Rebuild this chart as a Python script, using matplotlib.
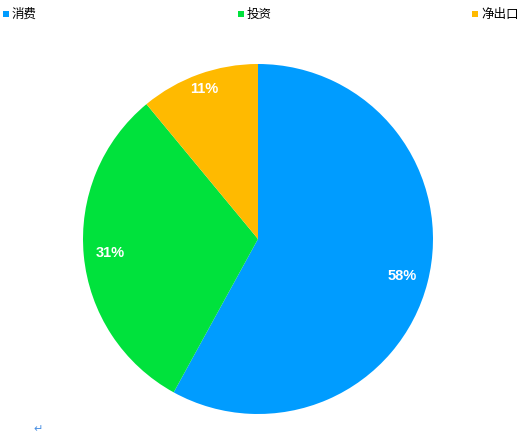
import matplotlib
matplotlib.use("Agg")
import matplotlib.pyplot as plt
from matplotlib.patches import Rectangle
import numpy as np

plt.rcParams['font.family'] = ['Noto Sans CJK SC', 'DejaVu Sans']

categories = ["消费", "投资", "净出口"]
values = [58, 31, 11]
colors = ["#009cff", "#00e23c", "#ffba00"]
label_dist = [0.85, 0.85, 0.91]

W, H = 524, 437
fig = plt.figure(figsize=(W / 100, H / 100), dpi=100)

cx, cy, r = 258, 239, 175
ax = fig.add_axes([(cx - r) / W, (H - cy - r) / H, 2 * r / W, 2 * r / H])
wedges, texts, autotexts = ax.pie(
    values, colors=colors, startangle=90, counterclock=False,
    autopct=lambda p: f"{p:.0f}%", pctdistance=0.85, radius=1.0,
    wedgeprops=dict(linewidth=0), textprops=dict(color="white", fontsize=10.5, fontweight="bold",
                                                 family=["Liberation Sans"]))
for w, t, d in zip(wedges, autotexts, label_dist):
    ang = np.deg2rad((w.theta1 + w.theta2) / 2)
    t.set_position((d * np.cos(ang), d * np.sin(ang)))
ax.set_xlim(-1, 1)
ax.set_ylim(-1, 1)
ax.set_aspect("equal")
ax.axis("off")

# legend across the top
leg_x = [3, 238, 472]
for x, c, lab in zip(leg_x, colors, categories):
    fig.patches.append(Rectangle((x / W, (H - 17) / H), 6 / W, 6 / H, transform=fig.transFigure,
                                 facecolor=c, edgecolor="none"))
    fig.text((x + 9) / W, (H - 14) / H, lab, fontsize=9, va="center", ha="left", color="black")

fig.text(33 / W, (H - 429) / H, "\u21b5", fontsize=8, color="#4a90e2", va="center", ha="left",
         family=["DejaVu Sans"])

fig.savefig("out.png", dpi=100, facecolor="white")
